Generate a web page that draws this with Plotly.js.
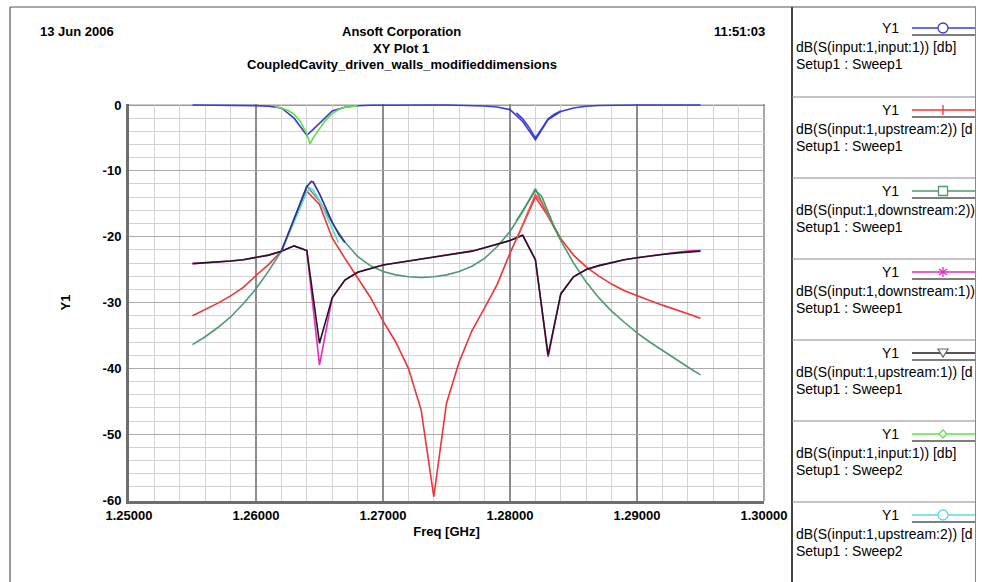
<!DOCTYPE html>
<html>
<head>
<meta charset="utf-8">
<script src="https://cdn.plot.ly/plotly-3.0.1.min.js"></script>
<style>html,body{margin:0;padding:0;background:#fff}#chart{width:982px;height:582px}</style>
</head>
<body>
<div id="chart"></div>
<script>
// ---------------- DATA ----------------
// Sweep1: 1.255 .. 1.295 GHz
const freqSweep1 = [1.255,1.256,1.257,1.258,1.259,1.260,1.261,1.262,1.263,1.264,1.265,1.266,1.267,1.268,1.269,1.270,1.271,1.272,1.273,1.274,1.275,1.276,1.277,1.278,1.279,1.280,1.281,1.282,1.283,1.284,1.285,1.286,1.287,1.288,1.289,1.290,1.291,1.292,1.293,1.294,1.295];
const s11Sweep1 = [0,0,0,0,-0.05,-0.1,-0.2,-0.45,-2.0,-4.6,-2.8,-0.9,-0.35,-0.12,-0.05,-0.02,0,0,0,0,0,-0.02,-0.05,-0.15,-0.3,-0.7,-2.5,-5.3,-2.2,-1.0,-0.45,-0.2,-0.08,-0.03,0,0,0,0,0,0,0];
const up2Sweep1 = [-32.0,-31.1,-30.1,-29.0,-27.7,-25.9,-24.2,-22.2,-17.7,-13.1,-15.1,-20.2,-23.3,-26.2,-29.2,-32.8,-36.0,-40.0,-46.3,-59.5,-45.3,-39.0,-34.3,-30.8,-27.2,-22.5,-18.3,-14.0,-16.9,-20.3,-22.8,-24.6,-26.0,-27.2,-28.2,-29.0,-29.7,-30.4,-31.0,-31.7,-32.4];
const down2Sweep1 = [-36.4,-35.2,-33.8,-32.2,-30.2,-27.9,-25.2,-22.2,-17.3,-12.3,-14.6,-17.9,-20.8,-23.0,-24.4,-25.3,-25.8,-26.1,-26.2,-26.1,-25.8,-25.3,-24.5,-23.3,-21.5,-19.2,-16.2,-12.7,-16.8,-20.6,-24.0,-26.9,-29.3,-31.3,-33.0,-34.6,-36.0,-37.3,-38.5,-39.8,-41.0];
const down1Sweep1 = [-24.1,-24.0,-23.9,-23.7,-23.5,-23.2,-22.8,-22.2,-21.4,-22.1,-39.5,-29.3,-26.6,-25.4,-24.8,-24.3,-24.0,-23.7,-23.4,-23.1,-22.8,-22.5,-22.2,-21.7,-21.2,-20.6,-19.8,-23.5,-38.3,-28.7,-26.1,-25.0,-24.4,-23.9,-23.5,-23.2,-22.9,-22.7,-22.4,-22.2,-22.1];
const up1Sweep1 = [-24.1,-24.0,-23.9,-23.7,-23.5,-23.2,-22.8,-22.2,-21.4,-22.1,-36.2,-29.3,-26.6,-25.4,-24.8,-24.3,-24.0,-23.7,-23.4,-23.1,-22.8,-22.5,-22.2,-21.7,-21.2,-20.6,-19.8,-23.5,-38.0,-28.7,-26.1,-25.0,-24.4,-23.9,-23.5,-23.2,-22.9,-22.7,-22.5,-22.3,-22.2];

// Sweep2: fine sweep around the first resonance
const freqS11Sweep2 = [1.2615,1.2620,1.2625,1.2630,1.2635,1.2640,1.26425,1.2645,1.2650,1.2655,1.2660,1.2665,1.2670,1.2675,1.2680];
const s11Sweep2 = [-0.25,-0.45,-0.8,-1.4,-2.5,-4.4,-5.9,-5.0,-3.6,-2.3,-1.3,-0.7,-0.35,-0.2,-0.1];
const freqUp2Sweep2 = [1.2620,1.2625,1.2630,1.2635,1.2640,1.26425,1.2645,1.2650,1.2655,1.2660,1.2665];
const up2Sweep2 = [-22.2,-19.9,-17.6,-15.3,-13.2,-12.6,-12.9,-14.5,-16.6,-18.8,-20.9];
const freqDown2Sweep2 = [1.2620,1.2625,1.2630,1.2635,1.2640,1.26435,1.2645,1.2650,1.2655,1.2660,1.2665,1.2670];
const down2Sweep2 = [-22.2,-19.7,-17.2,-14.8,-12.4,-11.6,-11.7,-13.5,-15.7,-17.8,-19.6,-20.9];

// fine sweep around the second resonance
const freqSweep3 = [1.2805,1.2810,1.2815,1.2820,1.2825,1.2830,1.2835,1.2840];
const s11Sweep3 = [-1.2,-2.1,-3.4,-5.0,-3.6,-2.1,-1.4,-0.9];
const up2Sweep3 = [-20.5,-18.3,-15.9,-13.6,-14.8,-16.9,-18.7,-20.3];
const down2Sweep3 = [-17.6,-16.0,-14.4,-13.0,-13.9,-16.3,-18.6,-20.5];

const xTickVals = [1.25,1.26,1.27,1.28,1.29,1.30];
const xTickText = ['1.25000','1.26000','1.27000','1.28000','1.29000','1.30000'];
const yTickVals = [0,-10,-20,-30,-40,-50,-60];
const yTickText = ['0','-10','-20','-30','-40','-50','-60'];

const legendNames = [
  ["dB(S(input:1,input:1)) [db]", "Setup1 : Sweep1"],
  ["dB(S(input:1,upstream:2)) [d", "Setup1 : Sweep1"],
  ["dB(S(input:1,downstream:2))", "Setup1 : Sweep1"],
  ["dB(S(input:1,downstream:1))", "Setup1 : Sweep1"],
  ["dB(S(input:1,upstream:1)) [d", "Setup1 : Sweep1"],
  ["dB(S(input:1,input:1)) [db]", "Setup1 : Sweep2"],
  ["dB(S(input:1,upstream:2)) [d", "Setup1 : Sweep2"]
];

// ---------------- STYLE ----------------
const W = 982, H = 582;
const X = px => px / W;
const Y = py => 1 - py / H;
const C = {
  blue: '#3b3bd6', red: '#ee3434', green: '#4f9a74', magenta: '#e02cc0',
  black: '#24181f', lgreen: '#62e04a', cyan: '#55dce2', navy: '#30309a',
  red2: '#f25050', green2: '#3f9a5c'
};
const FONT = 'Liberation Sans, Arial, sans-serif';

function line(x, y, color, w) {
  return {x: x, y: y, type: 'scatter', mode: 'lines', line: {color: color, width: w || 1.6}, hoverinfo: 'skip'};
}

const traces = [
  line(freqSweep1, s11Sweep1, C.blue),
  line(freqSweep1, up2Sweep1, C.red),
  line(freqSweep1, down2Sweep1, C.green),
  line(freqSweep1, down1Sweep1, C.magenta),
  line(freqSweep1, up1Sweep1, C.black),
  line(freqS11Sweep2, s11Sweep2, C.lgreen),
  line(freqUp2Sweep2, up2Sweep2, C.cyan),
  line(freqDown2Sweep2, down2Sweep2, C.navy),
  line(freqSweep3, up2Sweep3, C.red2),
  line(freqSweep3, down2Sweep3, C.green2),
  line(freqSweep3, s11Sweep3, C.blue)
];

// ---------------- LAYOUT ----------------
const shapes = [];
const annotations = [];
const plotL = 129, plotR = 764, plotT = 104, plotB = 501;

// plot frame (top/right)
shapes.push({type:'line', xref:'paper', yref:'paper', x0:X(plotL), x1:X(plotR), y0:Y(plotT+1.3), y1:Y(plotT+1.3), line:{color:'#9a9a9a', width:1.5}, layer:'below'});
shapes.push({type:'line', xref:'paper', yref:'paper', x0:X(plotR), x1:X(plotR), y0:Y(plotT), y1:Y(plotB), line:{color:'#8a8a8a', width:1.5}, layer:'below'});

// outer frame and legend panel
shapes.push({type:'line', xref:'paper', yref:'paper', x0:X(10), x1:X(976), y0:Y(7), y1:Y(7), line:{color:'#555', width:1.2}});
shapes.push({type:'line', xref:'paper', yref:'paper', x0:X(10), x1:X(10), y0:Y(7), y1:Y(582), line:{color:'#555', width:1.2}});
shapes.push({type:'line', xref:'paper', yref:'paper', x0:X(792), x1:X(792), y0:Y(7), y1:Y(582), line:{color:'#444', width:2}});
shapes.push({type:'line', xref:'paper', yref:'paper', x0:X(975.5), x1:X(975.5), y0:Y(7), y1:Y(582), line:{color:'#888', width:1}});

const legendColors = [C.blue, C.red, C.green, C.magenta, C.black, C.lgreen, C.cyan];
const legendSymbols = ['circle', 'tick', 'square', 'asterisk', 'triangle', 'diamond', 'circle'];
const boxTops = [15, 97, 178, 259, 340, 421, 502];

boxTops.forEach((top, i) => {
  if (i > 0) {
    shapes.push({type:'line', xref:'paper', yref:'paper', x0:X(792), x1:X(975.5), y0:Y(top), y1:Y(top), line:{color:'#8a8a8a', width:1.2}});
  }
  const col = legendColors[i];
  const ly = top + 13;
  shapes.push({type:'line', xref:'paper', yref:'paper', x0:X(912), x1:X(975), y0:Y(ly), y1:Y(ly), line:{color:col, width:1.3}});
  shapes.push({type:'line', xref:'paper', yref:'paper', x0:X(912), x1:X(975), y0:Y(top+20), y1:Y(top+20), line:{color:'#555', width:1.5}});
  const mx = 943, r = 5;
  const sym = legendSymbols[i];
  if (sym === 'circle') {
    shapes.push({type:'circle', xref:'paper', yref:'paper', x0:X(mx-r), x1:X(mx+r), y0:Y(ly-r), y1:Y(ly+r), line:{color:col, width:1.3}, fillcolor:'#fff'});
  } else if (sym === 'square') {
    shapes.push({type:'rect', xref:'paper', yref:'paper', x0:X(mx-4.5), x1:X(mx+4.5), y0:Y(ly-4.5), y1:Y(ly+4.5), line:{color:col, width:1.3}, fillcolor:'#fff'});
  } else if (sym === 'tick') {
    shapes.push({type:'line', xref:'paper', yref:'paper', x0:X(mx), x1:X(mx), y0:Y(ly-5), y1:Y(ly+5), line:{color:col, width:1.3}});
  } else if (sym === 'asterisk') {
    shapes.push({type:'line', xref:'paper', yref:'paper', x0:X(mx), x1:X(mx), y0:Y(ly-5), y1:Y(ly+5), line:{color:col, width:1.3}});
    shapes.push({type:'line', xref:'paper', yref:'paper', x0:X(mx-4), x1:X(mx+4), y0:Y(ly-3), y1:Y(ly+3), line:{color:col, width:1.3}});
    shapes.push({type:'line', xref:'paper', yref:'paper', x0:X(mx-4), x1:X(mx+4), y0:Y(ly+3), y1:Y(ly-3), line:{color:col, width:1.3}});
  } else if (sym === 'triangle') {
    const p = `M ${X(mx-5)} ${Y(ly-4)} L ${X(mx+5)} ${Y(ly-4)} L ${X(mx)} ${Y(ly+4)} Z`;
    shapes.push({type:'path', xref:'paper', yref:'paper', path:p, line:{color:'#666', width:1.2}, fillcolor:'#fff'});
  } else if (sym === 'diamond') {
    const p = `M ${X(mx-4)} ${Y(ly)} L ${X(mx)} ${Y(ly-4)} L ${X(mx+4)} ${Y(ly)} L ${X(mx)} ${Y(ly+4)} Z`;
    shapes.push({type:'path', xref:'paper', yref:'paper', path:p, line:{color:col, width:1.3}, fillcolor:'#fff'});
  }
  annotations.push({xref:'paper', yref:'paper', x:X(890), y:Y(ly), text:'Y1', showarrow:false, xanchor:'center', yanchor:'middle', font:{family:FONT, size:14, color:'#000'}});
  annotations.push({xref:'paper', yref:'paper', x:X(794), y:Y(top+32), text:legendNames[i][0], showarrow:false, xanchor:'left', yanchor:'middle', font:{family:FONT, size:14, color:'#000'}});
  annotations.push({xref:'paper', yref:'paper', x:X(794), y:Y(top+49), text:legendNames[i][1], showarrow:false, xanchor:'left', yanchor:'middle', font:{family:FONT, size:14, color:'#000'}});
});

// header texts
const hdr = (text, px, py, anchor) => ({xref:'paper', yref:'paper', x:X(px), y:Y(py), text:text, showarrow:false, xanchor:anchor, yanchor:'middle', font:{family:FONT, size:13, color:'#000', weight:700}});
annotations.push(hdr('13 Jun 2006', 38, 31, 'left'));
annotations.push(hdr('Ansoft Corporation', 401, 31, 'center'));
annotations.push(hdr('XY Plot 1', 401, 48, 'center'));
annotations.push(hdr('CoupledCavity_driven_walls_modifieddimensions', 402, 64, 'center'));
annotations.push(hdr('11:51:03', 767, 31, 'right'));

const tickFont = {family: FONT, size: 13, color: '#000', weight: 700};

const layout = {
  width: W, height: H,
  margin: {l: 0, r: 0, t: 0, b: 0},
  paper_bgcolor: '#fff', plot_bgcolor: '#fff',
  showlegend: false,
  xaxis: {
    domain: [X(plotL), X(plotR)],
    range: [1.25, 1.30],
    tickmode: 'array', tickvals: xTickVals, ticktext: xTickText,
    tickfont: tickFont,
    showgrid: true, gridcolor: '#8c8c8c', gridwidth: 1.2,
    minor: {dtick: 0.002, tick0: 1.25, showgrid: true, gridcolor: '#d3d3d3', gridwidth: 1},
    showline: true, linecolor: '#6e6e6e', linewidth: 3,
    zeroline: false, ticks: '', ticklabelstandoff: 0,
    automargin: false, fixedrange: true,
    title: {text: 'Freq [GHz]', font: {family: FONT, size: 13, color: '#000', weight: 700}, standoff: 6}
  },
  yaxis: {
    domain: [Y(plotB), Y(plotT)],
    range: [-60.15, 0.15],
    tickmode: 'array', tickvals: yTickVals, ticktext: yTickText,
    tickfont: tickFont,
    showgrid: true, gridcolor: '#ababab', gridwidth: 1.3,
    minor: {dtick: 2, tick0: 0, showgrid: true, gridcolor: '#d3d3d3', gridwidth: 1},
    showline: true, linecolor: '#6e6e6e', linewidth: 3,
    zeroline: false, ticks: '', ticklabelstandoff: 2,
    automargin: false, fixedrange: true,
    title: {text: 'Y1', font: {family: FONT, size: 13, color: '#000', weight: 700}, standoff: 30}
  },
  shapes: shapes,
  annotations: annotations
};

Plotly.newPlot('chart', traces, layout, {displayModeBar: false, staticPlot: true});
</script>
</body>
</html>
